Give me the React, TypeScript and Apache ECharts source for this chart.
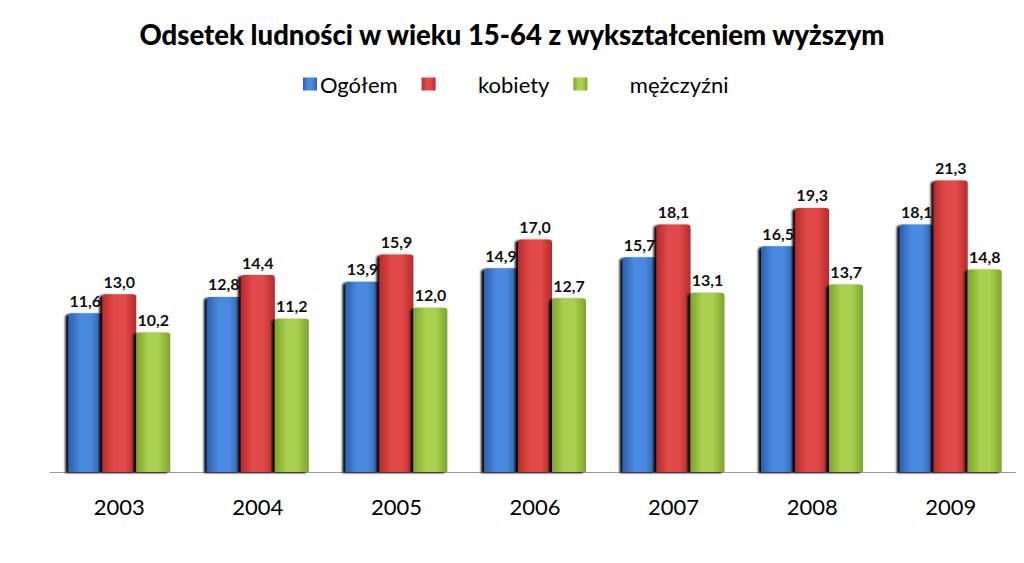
import React, { useEffect, useRef } from "react";
import * as echarts from "echarts";

const years = ["2003", "2004", "2005", "2006", "2007", "2008", "2009"];
const ogolem = [11.6, 12.8, 13.9, 14.9, 15.7, 16.5, 18.1];
const kobiety = [13.0, 14.4, 15.9, 17.0, 18.1, 19.3, 21.3];
const mezczyzni = [10.2, 11.2, 12.0, 12.7, 13.1, 13.7, 14.8];

const FONT = "Lato, 'Open Sans', sans-serif";

function grad(dark: string, light: string) {
  return new echarts.graphic.LinearGradient(0, 0, 1, 0, [
    { offset: 0, color: dark },
    { offset: 0.35, color: light },
    { offset: 0.65, color: light },
    { offset: 1, color: dark },
  ]);
}

export default function App() {
  const ref = useRef<HTMLDivElement>(null);
  useEffect(() => {
    const chart = echarts.init(ref.current!, null, { renderer: "svg" });
    const mk = (name: string, data: number[], dark: string, light: string) => ({
      name,
      type: "bar",
      data,
      barWidth: 34,
      barGap: "0%",
      itemStyle: {
        color: grad(dark, light),
        borderRadius: [3, 3, 0, 0],
        shadowColor: "rgba(0,0,0,0.95)",
        shadowBlur: 2,
        shadowOffsetX: -3,
        shadowOffsetY: 1,
      },
      label: {
        show: true,
        position: "top",
        distance: 5,
        formatter: (p: any) => p.value.toFixed(1).replace(".", ","),
        fontFamily: FONT,
        fontWeight: "bold",
        fontSize: 16,
        color: "#111",
      },
    });
    chart.setOption({
      animation: false,
      backgroundColor: "#fff",
      title: {
        text: "Odsetek ludności w wieku 15-64 z wykształceniem wyższym",
        left: "center",
        top: 15,
        textStyle: { fontFamily: FONT, fontWeight: 900, fontSize: 27.5, color: "#000" },
      },
      legend: {
        top: 68,
        left: 298,
        itemWidth: 14,
        itemHeight: 13,
        itemGap: 24,
        icon: "rect",
        formatter: (n: string) => (n === "Ogółem" ? n : "       " + n),
        textStyle: { fontFamily: FONT, fontSize: 22, color: "#000", padding: [0, 0, 0, -2] },
        data: ["Ogółem", "kobiety", "mężczyźni"],
      },
      grid: { left: 50, right: 4, top: 130, bottom: 91 },
      xAxis: {
        type: "category",
        data: years,
        axisTick: { show: false },
        axisLine: { lineStyle: { color: "#9a9a9a", width: 1 } },
        axisLabel: { fontFamily: FONT, fontSize: 22, color: "#000", margin: 23 },
      },
      yAxis: {
        type: "value",
        min: 0,
        max: 25,
        show: false,
        splitLine: { show: false },
      },
      series: [
        mk("Ogółem", ogolem, "#2c5fae", "#4a8ae0"),
        mk("kobiety", kobiety, "#b82a2a", "#e24a48"),
        mk("mężczyźni", mezczyzni, "#7ea52d", "#a9d14f"),
      ],
    });
    return () => chart.dispose();
  }, []);
  return <div ref={ref} style={{ width: 1024, height: 563, margin: -8 }} />;
}
